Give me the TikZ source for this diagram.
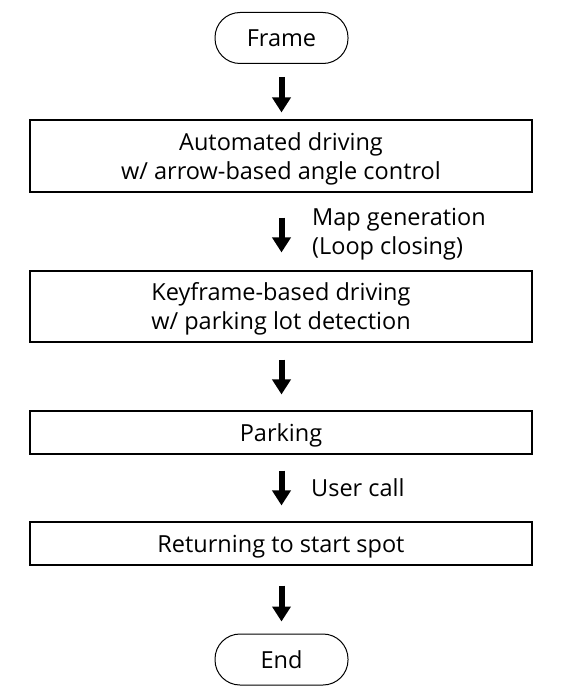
\documentclass[tikz,border=0pt]{standalone}
\usepackage{fontspec}
\setmainfont{Open Sans}
\usetikzlibrary{arrows.meta}
\begin{document}
\begin{tikzpicture}[x=1pt,y=-1pt,
  every node/.style={font=\fontsize{23.5}{29}\selectfont},
  stepbox/.style={draw=black, line width=1.1pt, minimum width=502pt, inner sep=0pt, align=center, text depth=0pt},
  twoline/.style={text depth=-4pt},
  termbox/.style={draw=black, line width=1pt, rounded corners=25pt, minimum width=133pt, minimum height=51pt, inner sep=0pt, text depth=0pt},
  flowarrow/.style={line width=6pt, -{Triangle[width=18pt,length=15pt]}},
  note/.style={anchor=base west, align=left, inner sep=0pt}]
\useasboundingbox (0,0) rectangle (584,698);
\node[termbox] (frame) at (281.5,38) {Frame};
\node[stepbox, twoline, minimum height=72pt] (auto) at (281,156) {Automated driving\\w/ arrow-based angle control};
\node[stepbox, twoline, minimum height=71pt] (key) at (281,306.5) {Keyframe-based driving\\w/ parking lot detection};
\node[stepbox, minimum height=43pt] (park) at (281,432.5) {Parking};
\node[stepbox, minimum height=43pt] (ret) at (281,543.5) {Returning to start spot};
\node[termbox] (end) at (281.5,659.5) {End};
\draw[flowarrow, shorten <=13pt, shorten >=7pt] (frame.south) -- (frame.south |- auto.north);
\draw[flowarrow, shorten <=25pt, shorten >=18pt] (auto.south -| frame.south) -- (frame.south |- key.north);
\draw[flowarrow, shorten <=17pt, shorten >=16pt] (key.south -| frame.south) -- (frame.south |- park.north);
\draw[flowarrow, shorten <=16pt, shorten >=16pt] (park.south -| frame.south) -- (frame.south |- ret.north);
\draw[flowarrow, shorten <=20pt, shorten >=12pt] (ret.south -| frame.south) -- (end.north);
\node[note] (maplabel) at (312,254) {Map generation\\(Loop closing)};
\node[note] (userlabel) at (311,496) {User call};
\end{tikzpicture}
\end{document}
